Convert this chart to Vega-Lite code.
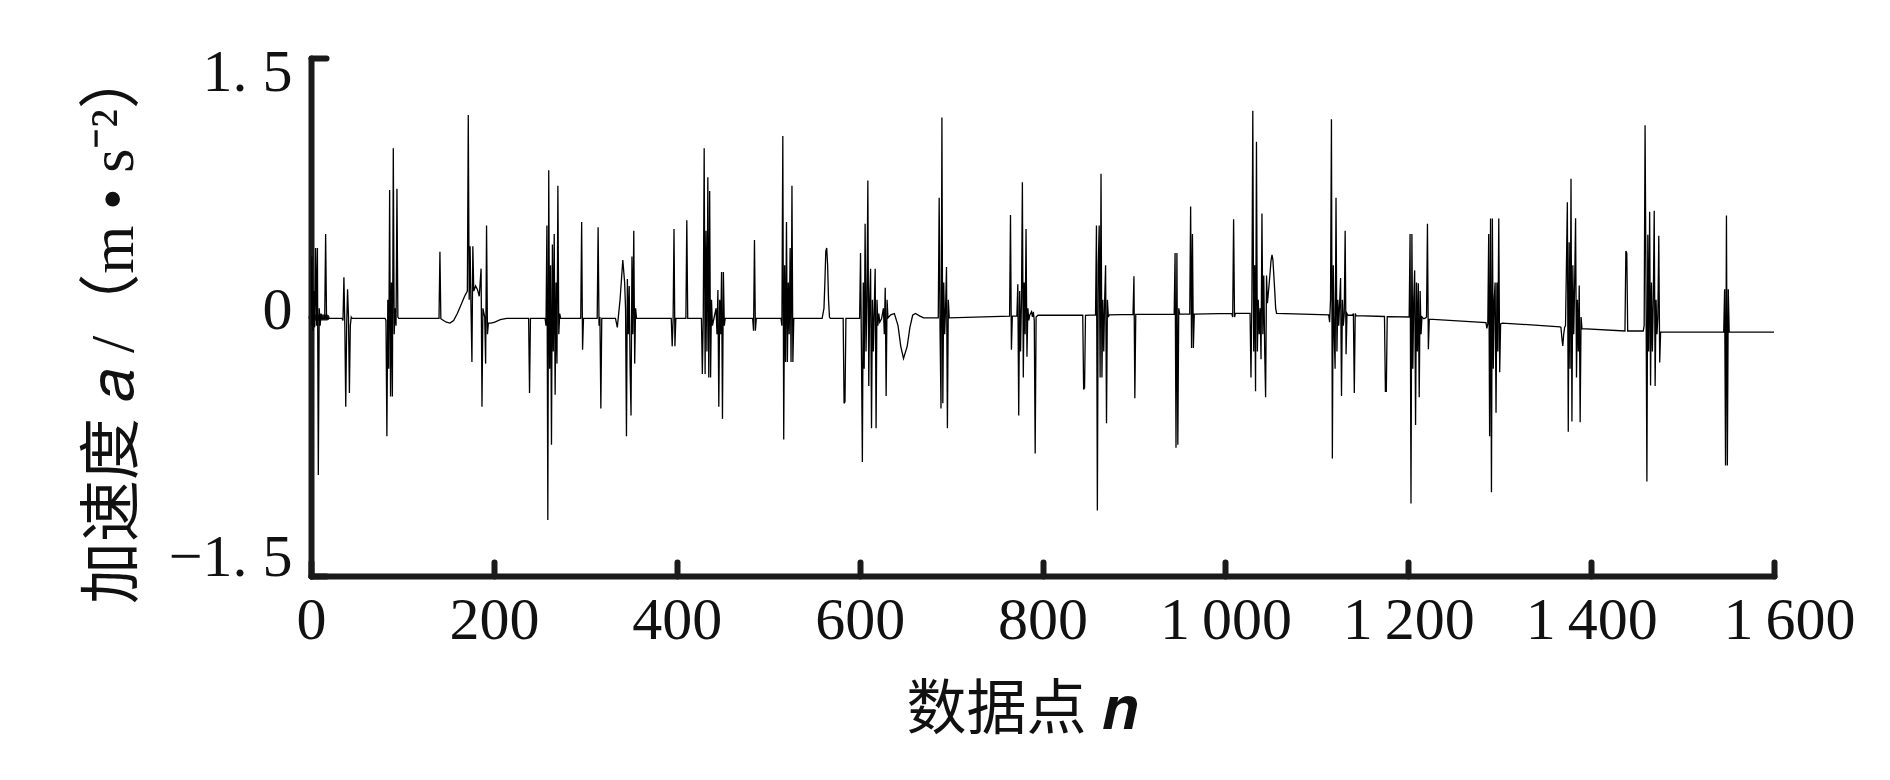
{
  "$schema": "https://vega.github.io/schema/vega-lite/v6.json",
  "autosize": "none",
  "width": 1463,
  "height": 518,
  "padding": {"left": 311, "top": 58, "right": 116, "bottom": 204},
  "background": "white",
  "data": {"values": [
    {"n":0,"a":-0.05},{"n":1,"a":0.35},{"n":2,"a":-0.08},{"n":3,"a":0.15},{"n":4,"a":-0.06},{"n":5,"a":0.40},{"n":6,"a":-0.05},{"n":7,"a":0.40},{"n":8,"a":-0.915},{"n":9,"a":0.05},{"n":10,"a":-0.05},{"n":11,"a":0.02},{"n":12,"a":-0.008},
    {"n":15,"a":-0.008},{"n":16,"a":0.48},{"n":17,"a":-0.008},
    {"n":34,"a":-0.008},{"n":35,"a":-0.02},{"n":36,"a":0.23},{"n":37,"a":-0.05},{"n":38,"a":-0.52},{"n":39,"a":-0.05},{"n":40,"a":0.16},{"n":41,"a":0.0},{"n":42,"a":-0.44},{"n":43,"a":-0.05},{"n":44,"a":0.0},{"n":45,"a":-0.008},
    {"n":81,"a":-0.008},{"n":82,"a":-0.02},{"n":83,"a":-0.69},{"n":84,"a":0.1},{"n":85,"a":-0.3},{"n":86,"a":0.735},{"n":87,"a":-0.46},{"n":88,"a":0.2},{"n":89,"a":-0.46},{"n":90,"a":0.977},{"n":91,"a":-0.1},{"n":92,"a":0.05},{"n":93,"a":-0.05},{"n":94,"a":0.743},{"n":95,"a":0.0},{"n":96,"a":-0.008},
    {"n":140,"a":-0.008},{"n":141,"a":0.378},{"n":142,"a":-0.01},{"n":145,"a":-0.02},{"n":148,"a":-0.03},{"n":152,"a":-0.035},{"n":156,"a":-0.02},{"n":160,"a":0.02},{"n":164,"a":0.07},{"n":168,"a":0.12},{"n":171,"a":0.15},{"n":172,"a":1.17},{"n":173,"a":0.1},{"n":174,"a":0.41},{"n":175,"a":0.05},{"n":176,"a":-0.26},{"n":177,"a":0.41},{"n":178,"a":0.15},{"n":180,"a":0.18},{"n":182,"a":0.16},{"n":184,"a":0.12},{"n":186,"a":0.28},{"n":187,"a":-0.52},{"n":188,"a":0.05},{"n":190,"a":0.0},{"n":191,"a":-0.27},{"n":192,"a":0.53},{"n":193,"a":-0.1},{"n":194,"a":-0.035},{"n":197,"a":-0.035},{"n":201,"a":-0.03},{"n":207,"a":-0.015},{"n":214,"a":-0.008},
    {"n":238,"a":-0.008},{"n":239,"a":-0.44},{"n":240,"a":-0.008},
    {"n":256,"a":-0.008},{"n":257,"a":-0.05},{"n":258,"a":0.53},{"n":259,"a":-1.175},{"n":260,"a":0.85},{"n":261,"a":-0.3},{"n":262,"a":0.30},{"n":263,"a":-0.74},{"n":264,"a":0.42},{"n":265,"a":-0.2},{"n":266,"a":0.48},{"n":267,"a":-0.45},{"n":268,"a":0.2},{"n":269,"a":-0.27},{"n":270,"a":0.76},{"n":271,"a":-0.1},{"n":272,"a":0.02},{"n":273,"a":-0.008},
    {"n":295,"a":-0.008},{"n":296,"a":0.55},{"n":297,"a":-0.19},{"n":298,"a":-0.008},
    {"n":313,"a":-0.008},{"n":314,"a":0.52},{"n":315,"a":-0.05},{"n":316,"a":0.0},{"n":317,"a":-0.53},{"n":318,"a":-0.008},
    {"n":333,"a":-0.008},{"n":335,"a":-0.06},{"n":338,"a":0.1},{"n":341,"a":0.33},{"n":343,"a":0.2},{"n":344,"a":0.05},{"n":345,"a":-0.69},{"n":346,"a":0.22},{"n":347,"a":-0.1},{"n":348,"a":0.18},{"n":349,"a":-0.3},{"n":350,"a":-0.57},{"n":351,"a":0.35},{"n":352,"a":-0.1},{"n":353,"a":0.5},{"n":354,"a":-0.27},{"n":355,"a":0.05},{"n":356,"a":-0.008},
    {"n":394,"a":-0.008},{"n":395,"a":-0.17},{"n":396,"a":-0.02},{"n":397,"a":0.51},{"n":398,"a":-0.17},{"n":399,"a":-0.008},
    {"n":410,"a":-0.008},{"n":411,"a":0.56},{"n":412,"a":-0.008},
    {"n":427,"a":-0.008},{"n":428,"a":-0.33},{"n":429,"a":0.0},{"n":430,"a":0.977},{"n":431,"a":-0.33},{"n":432,"a":0.5},{"n":433,"a":-0.2},{"n":434,"a":0.81},{"n":435,"a":-0.35},{"n":436,"a":0.73},{"n":437,"a":-0.35},{"n":438,"a":0.1},{"n":439,"a":-0.05},{"n":441,"a":0.0},{"n":443,"a":0.05},{"n":444,"a":-0.1},{"n":445,"a":0.157},{"n":446,"a":-0.52},{"n":447,"a":0.1},{"n":448,"a":-0.1},{"n":449,"a":0.26},{"n":450,"a":-0.59},{"n":451,"a":0.26},{"n":452,"a":-0.05},{"n":453,"a":-0.008},
    {"n":483,"a":-0.008},{"n":484,"a":-0.08},{"n":485,"a":0.446},{"n":486,"a":-0.08},{"n":487,"a":-0.008},
    {"n":514,"a":-0.008},{"n":515,"a":-0.05},{"n":516,"a":1.048},{"n":517,"a":-0.71},{"n":518,"a":0.3},{"n":519,"a":-0.26},{"n":520,"a":0.55},{"n":521,"a":-0.26},{"n":522,"a":0.2},{"n":523,"a":-0.1},{"n":524,"a":0.4},{"n":525,"a":-0.26},{"n":526,"a":0.76},{"n":527,"a":-0.26},{"n":528,"a":-0.008},
    {"n":559,"a":-0.008},{"n":561,"a":0.05},{"n":562,"a":0.2},{"n":563,"a":0.38},{"n":564,"a":0.40},{"n":565,"a":0.3},{"n":566,"a":0.1},{"n":567,"a":0.0},{"n":568,"a":-0.008},
    {"n":582,"a":-0.008},{"n":583,"a":-0.50},{"n":584,"a":-0.49},{"n":585,"a":-0.008},
    {"n":600,"a":-0.008},{"n":601,"a":0.37},{"n":602,"a":-0.2},{"n":603,"a":-0.84},{"n":604,"a":0.2},{"n":605,"a":-0.3},{"n":606,"a":0.54},{"n":607,"a":-0.2},{"n":608,"a":0.1},{"n":609,"a":0.79},{"n":610,"a":-0.4},{"n":611,"a":0.1},{"n":612,"a":0.28},{"n":613,"a":-0.645},{"n":614,"a":0.1},{"n":615,"a":-0.2},{"n":616,"a":0.05},{"n":617,"a":0.28},{"n":618,"a":-0.645},{"n":619,"a":0.1},{"n":620,"a":-0.05},{"n":621,"a":0.02},{"n":622,"a":-0.03},{"n":624,"a":-0.01},{"n":626,"a":0.05},{"n":627,"a":-0.1},{"n":628,"a":0.17},{"n":629,"a":-0.457},{"n":630,"a":0.1},{"n":631,"a":-0.005},
    {"n":634,"a":0.012},{"n":638,"a":0.02},{"n":642,"a":-0.05},{"n":645,"a":-0.17},{"n":648,"a":-0.24},{"n":652,"a":-0.17},{"n":655,"a":-0.06},{"n":658,"a":0.01},{"n":661,"a":0.02},{"n":666,"a":0.005},{"n":670,"a":-0.005},
    {"n":686,"a":-0.005},{"n":687,"a":0.69},{"n":688,"a":-0.1},{"n":689,"a":-0.53},{"n":690,"a":1.156},{"n":691,"a":-0.5},{"n":692,"a":0.2},{"n":693,"a":-0.1},{"n":694,"a":0.05},{"n":695,"a":0.29},{"n":696,"a":-0.645},{"n":697,"a":0.1},{"n":698,"a":-0.005},
    {"n":764,"a":0.005},{"n":765,"a":0.59},{"n":766,"a":-0.19},{"n":767,"a":0.005},
    {"n":772,"a":0.005},{"n":773,"a":0.19},{"n":774,"a":-0.57},{"n":775,"a":0.15},{"n":776,"a":-0.2},{"n":777,"a":0.1},{"n":778,"a":0.78},{"n":779,"a":-0.35},{"n":780,"a":0.2},{"n":781,"a":-0.1},{"n":782,"a":0.51},{"n":783,"a":-0.23},{"n":784,"a":0.05},{"n":785,"a":-0.02},{"n":786,"a":0.01},{"n":788,"a":0.03},{"n":789,"a":0.0},{"n":790,"a":0.03},{"n":791,"a":-0.02},{"n":792,"a":-0.79},{"n":793,"a":0.0},{"n":795,"a":0.01},
    {"n":844,"a":0.01},{"n":845,"a":-0.42},{"n":846,"a":-0.41},{"n":847,"a":0.01},
    {"n":858,"a":0.012},{"n":859,"a":0.53},{"n":860,"a":-1.12},{"n":861,"a":0.3},{"n":862,"a":0.53},{"n":863,"a":-0.35},{"n":864,"a":0.83},{"n":865,"a":-0.35},{"n":866,"a":0.1},{"n":867,"a":-0.2},{"n":868,"a":0.1},{"n":869,"a":0.3},{"n":870,"a":-0.616},{"n":871,"a":0.1},{"n":872,"a":0.0},{"n":873,"a":0.012},
    {"n":899,"a":0.015},{"n":900,"a":0.236},{"n":901,"a":-0.47},{"n":902,"a":0.015},
    {"n":944,"a":0.017},{"n":945,"a":0.37},{"n":946,"a":-0.757},{"n":947,"a":0.37},{"n":948,"a":-0.74},{"n":949,"a":0.05},{"n":950,"a":0.017},
    {"n":961,"a":0.017},{"n":962,"a":0.64},{"n":963,"a":-0.18},{"n":964,"a":0.48},{"n":965,"a":-0.18},{"n":966,"a":0.017},
    {"n":1007,"a":0.021},{"n":1008,"a":0.0},{"n":1009,"a":0.566},{"n":1010,"a":0.0},{"n":1011,"a":0.021},
    {"n":1027,"a":0.021},{"n":1028,"a":-0.35},{"n":1029,"a":0.1},{"n":1030,"a":1.195},{"n":1031,"a":-0.2},{"n":1032,"a":0.3},{"n":1033,"a":-0.43},{"n":1034,"a":1.015},{"n":1035,"a":-0.2},{"n":1036,"a":0.1},{"n":1037,"a":-0.1},{"n":1038,"a":0.05},{"n":1039,"a":-0.245},{"n":1040,"a":0.60},{"n":1041,"a":-0.1},{"n":1042,"a":0.24},{"n":1043,"a":-0.2},{"n":1044,"a":-0.465},{"n":1045,"a":0.24},{"n":1046,"a":0.08},{"n":1048,"a":0.2},{"n":1050,"a":0.33},{"n":1051,"a":0.36},{"n":1052,"a":0.33},{"n":1054,"a":0.15},{"n":1055,"a":0.05},{"n":1056,"a":0.021},
    {"n":1113,"a":0.012},{"n":1114,"a":-0.03},{"n":1115,"a":0.1},{"n":1116,"a":1.145},{"n":1117,"a":-0.82},{"n":1118,"a":0.3},{"n":1119,"a":-0.1},{"n":1120,"a":-0.30},{"n":1121,"a":0.69},{"n":1122,"a":-0.2},{"n":1123,"a":0.1},{"n":1124,"a":-0.05},{"n":1126,"a":0.226},{"n":1127,"a":-0.458},{"n":1128,"a":0.1},{"n":1129,"a":-0.05},{"n":1130,"a":0.02},{"n":1131,"a":0.50},{"n":1132,"a":-0.215},{"n":1133,"a":0.02},{"n":1134,"a":0.01},
    {"n":1139,"a":0.01},{"n":1140,"a":0.02},{"n":1141,"a":-0.44},{"n":1142,"a":0.02},{"n":1143,"a":0.008},
    {"n":1174,"a":0.003},{"n":1175,"a":-0.43},{"n":1176,"a":-0.43},{"n":1177,"a":0.002},
    {"n":1201,"a":0.0},{"n":1202,"a":0.48},{"n":1203,"a":-1.08},{"n":1204,"a":0.48},{"n":1205,"a":-0.3},{"n":1206,"a":0.1},{"n":1207,"a":0.27},{"n":1208,"a":-0.625},{"n":1209,"a":0.2},{"n":1210,"a":-0.2},{"n":1211,"a":0.195},{"n":1212,"a":-0.465},{"n":1213,"a":0.15},{"n":1214,"a":-0.1},{"n":1215,"a":0.0},{"n":1217,"a":-0.01},{"n":1219,"a":-0.005},{"n":1220,"a":0.0},{"n":1221,"a":0.54},{"n":1222,"a":-0.187},{"n":1223,"a":-0.012},
    {"n":1285,"a":-0.033},{"n":1286,"a":-0.066},{"n":1287,"a":-0.04},{"n":1288,"a":0.48},{"n":1289,"a":-0.69},{"n":1290,"a":0.57},{"n":1291,"a":-1.015},{"n":1292,"a":0.57},{"n":1293,"a":-0.3},{"n":1294,"a":0.1},{"n":1295,"a":0.2},{"n":1296,"a":-0.554},{"n":1297,"a":0.2},{"n":1298,"a":-0.2},{"n":1299,"a":0.57},{"n":1300,"a":-0.32},{"n":1301,"a":-0.04},{"n":1303,"a":-0.035},
    {"n":1366,"a":-0.057},{"n":1367,"a":-0.06},{"n":1368,"a":-0.12},{"n":1369,"a":-0.168},{"n":1370,"a":-0.1},{"n":1371,"a":-0.06},{"n":1372,"a":-0.05},{"n":1373,"a":0.3},{"n":1374,"a":0.665},{"n":1375,"a":-0.665},{"n":1376,"a":0.433},{"n":1377,"a":-0.3},{"n":1378,"a":0.80},{"n":1379,"a":-0.605},{"n":1380,"a":0.3},{"n":1381,"a":-0.1},{"n":1382,"a":0.2},{"n":1383,"a":0.572},{"n":1384,"a":-0.351},{"n":1385,"a":0.1},{"n":1386,"a":-0.2},{"n":1387,"a":0.183},{"n":1388,"a":-0.61},{"n":1389,"a":0.0},{"n":1390,"a":-0.068},
    {"n":1437,"a":-0.081},{"n":1438,"a":0.382},{"n":1439,"a":0.37},{"n":1440,"a":-0.081},
    {"n":1457,"a":-0.081},{"n":1458,"a":-0.05},{"n":1459,"a":1.11},{"n":1460,"a":0.2},{"n":1461,"a":-0.953},{"n":1462,"a":0.477},{"n":1463,"a":-0.2},{"n":1464,"a":0.61},{"n":1465,"a":-0.396},{"n":1466,"a":0.2},{"n":1467,"a":-0.2},{"n":1468,"a":0.1},{"n":1469,"a":0.616},{"n":1470,"a":-0.40},{"n":1471,"a":0.1},{"n":1472,"a":-0.1},{"n":1473,"a":0.0},{"n":1474,"a":0.47},{"n":1475,"a":-0.263},{"n":1476,"a":-0.086},
    {"n":1545,"a":-0.088},{"n":1546,"a":0.161},{"n":1547,"a":-0.86},{"n":1548,"a":0.588},{"n":1549,"a":-0.86},{"n":1550,"a":0.161},{"n":1551,"a":-0.088},{"n":1600,"a":-0.088}
  ]},
  "mark": {"type": "line", "color": "#000000", "strokeWidth": 1.3, "interpolate": "linear", "clip": true},
  "encoding": {
    "x": {
      "field": "n", "type": "quantitative",
      "scale": {"domain": [0, 1600], "nice": false, "zero": false},
      "axis": {
        "values": [0, 200, 400, 600, 800, 1000, 1200, 1400, 1600],
        "labelExpr": "replace(format(datum.value, ','), ',', '\u2009')",
        "tickSize": -14,
        "labelPadding": 29,
        "labelOffset": {"condition": {"test": "datum.value == 1600", "value": 15}, "value": 0},
        "labelFlush": false,
        "title": "数据点 𝒏",
        "titleFontSize": 60,
        "titleX": 711,
        "titleY": 134,
        "titleAlign": "center",
        "titleBaseline": "middle"
      }
    },
    "y": {
      "field": "a", "type": "quantitative",
      "scale": {"domain": [-1.5, 1.5], "nice": false, "zero": false},
      "axis": {
        "values": [-1.5, 0, 1.5],
        "labelExpr": "datum.value == 1.5 ? '1. 5' : (datum.value == -1.5 ? '\u22121. 5' : '0')",
        "tickSize": -15,
        "labelPadding": 34,
        "labelFlush": false,
        "labelOffset": {"condition": [{"test": "datum.value == 1.5", "value": 14}, {"test": "datum.value == 0", "value": -7}], "value": -19},
        "title": "加速度 𝑎 /（m • s⁻²）",
        "titleFontSize": 62,
        "titleAngle": -90,
        "titleX": -198,
        "titleY": 267,
        "titleAlign": "center",
        "titleBaseline": "middle"
      }
    }
  },
  "config": {
    "view": {"stroke": null},
    "axis": {
      "grid": false,
      "domainColor": "#1a1a1a",
      "domainWidth": 6,
      "domainCap": "round",
      "tickColor": "#1a1a1a",
      "tickWidth": 6,
      "tickCap": "round",
      "labelFont": "Liberation Serif",
      "labelFontSize": 60,
      "labelColor": "#111111",
      "titleFont": "Liberation Serif, Noto Sans CJK SC",
      "titleFontSize": 56,
      "titleFontWeight": "normal",
      "titleColor": "#111111"
    }
  }
}
